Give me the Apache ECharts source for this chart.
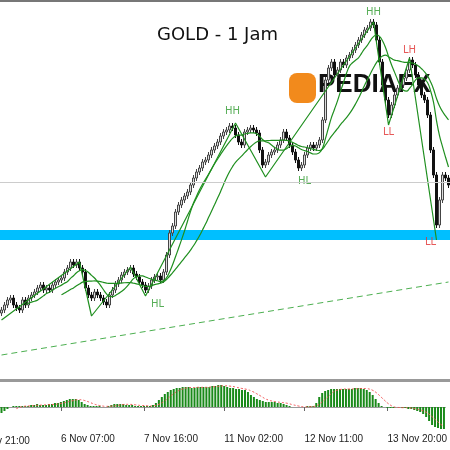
<!DOCTYPE html>
<html><head><meta charset="utf-8">
<script src="https://cdn.jsdelivr.net/npm/echarts@6/dist/echarts.min.js"></script>
<style>html,body{margin:0;padding:0;background:#fff}#c{width:450px;height:450px}</style>
</head><body><div id="c"></div>
<script>
const closes=[90,95,100,102,95,92,90,100,95,102,105,108,112,115,110,112,110,115,118,120,122,128,132,138,135,138,132,128,112,105,102,108,105,102,98,95,105,110,116,120,125,128,130,132,126,123,118,115,110,114,120,123,124,120,128,145,167,174,188,195,200,204,208,215,222,228,232,238,240,245,250,254,258,264,268,270,274,272,265,258,255,268,270,272,270,267,250,235,238,245,248,250,255,260,268,262,255,248,240,232,235,245,252,255,252,255,260,280,320,332,338,325,330,338,335,342,345,350,355,360,365,370,372,378,375,360,338,315,300,285,295,305,312,315,322,330,340,335,325,315,305,300,285,250,225,175,200,225,222,215];
const zigzag=[[0,80],[26,138],[30,84],[43,133],[48,104],[78,277],[88,223],[124,378],[129,275],[136,342],[145,160]];
const swingLabels=[[124,388,'HH','#2e9a2e'],[136,350,'LH','#e03030'],[129,268,'LL','#e03030'],[143,158,'LL','#e03030'],[77,289,'HH','#2e9a2e'],[101,219,'HL','#2e9a2e'],[52,96,'HL','#2e9a2e']];
const hist=[-6,-4,-2,0,1,1,1,1,1,1,2,2,3,2,2,2,3,3,4,4,5,6,7,8,8,8,7,5,3,2,1,1,1,1,0,0,1,2,3,3,3,3,2,2,2,1,1,1,1,1,1,2,4,7,10,13,15,17,18,19,19,20,20,20,19,19,20,20,20,20,20,21,21,22,22,21,20,19,19,18,18,17,17,15,12,10,8,7,6,5,5,5,5,4,4,3,2,1,0,0,0,0,0,1,1,1,4,10,14,16,17,18,18,18,18,18,18,18,18,19,19,19,18,17,15,12,8,4,1,0,-1,-1,-1,0,0,-1,-1,-2,-2,-3,-4,-5,-7,-10,-14,-18,-20,-21,-22,-22];
const tickLabels={20:'6 Nov 07:00',48:'7 Nov 16:00',75:'11 Nov 02:00',102:'12 Nov 11:00',130:'13 Nov 20:00'};
const band=[160,170], hLine=218, trend=[[0,45],[149,118]];

const cats=closes.map((_,i)=>i);
const ohlc=closes.map((c,i)=>{const o=i?closes[i-1]:c-3;return [o,c,Math.min(o,c)-3,Math.max(o,c)+3];});
function sma(a,p){return a.map((_,i)=>{if(i<p-1)return null;let s=0;for(let j=i-p+1;j<=i;j++)s+=a[j];return +(s/p).toFixed(2);});}
const zz=cats.map(()=>null);zigzag.forEach(([i,v])=>zz[i]=v);

const ch=echarts.init(document.getElementById('c'));
ch.setOption({
 animation:false,
 grid:[{left:0,right:0,top:2,height:376},{left:0,right:0,top:384,height:46}],
 xAxis:[{type:'category',data:cats,gridIndex:0,boundaryGap:true,axisLine:{show:false},axisTick:{show:false},axisLabel:{show:false}},
  {type:'category',data:cats,gridIndex:1,boundaryGap:true,axisLine:{show:true,lineStyle:{color:'#999'}},
   axisTick:{show:true,alignWithLabel:true,length:4,interval:(i)=>tickLabels[i]!==undefined,lineStyle:{color:'#666'}},
   axisLabel:{interval:(i)=>tickLabels[i]!==undefined,formatter:(v)=>tickLabels[v]||'',align:'left',color:'#222',fontSize:10,fontFamily:'Liberation Sans',margin:4}}],
 yAxis:[{gridIndex:0,min:22,max:398,show:false,splitLine:{show:false}},{gridIndex:1,min:-23,max:23,show:false,splitLine:{show:false}}],
 series:[
  {type:'candlestick',data:ohlc,barWidth:2,itemStyle:{color:'#ddd',color0:'#111',borderColor:'#444',borderColor0:'#111',borderWidth:1},
   markArea:{silent:true,itemStyle:{color:'#00bfff'},data:[[{yAxis:band[0]},{yAxis:band[1]}]]},
   markLine:{silent:true,symbol:'none',label:{show:false},data:[
     {yAxis:hLine,lineStyle:{color:'#ccc',type:'solid',width:1}},
     [{coord:[trend[0][0],trend[0][1]],lineStyle:{color:'#4caf50',type:[6,4],width:1}},{coord:[trend[1][0],trend[1][1]]}]]}},
  {type:'line',data:sma(closes,9),showSymbol:false,smooth:true,lineStyle:{color:'#1f8f1f',width:1.2}},
  {type:'line',data:sma(closes,21),showSymbol:false,smooth:true,lineStyle:{color:'#1f8f1f',width:1.2}},
  {type:'line',data:zz,connectNulls:true,showSymbol:false,lineStyle:{color:'#1f8f1f',width:1.2}},
  {type:'scatter',data:swingLabels.map(d=>({value:[d[0],d[1]],label:{color:d[3]}})),symbolSize:0,
   label:{show:true,position:'inside',formatter:(p)=>swingLabels[p.dataIndex][2],fontSize:10,fontFamily:'DejaVu Sans'}},
  {type:'bar',xAxisIndex:1,yAxisIndex:1,data:hist,barWidth:2,itemStyle:{color:'#1a8a1a'}},
  {type:'line',xAxisIndex:1,yAxisIndex:1,data:sma(hist,6),showSymbol:false,smooth:true,lineStyle:{color:'#f05050',type:[2,2],width:1}}
 ],
 graphic:[
  {type:'rect',shape:{x:0,y:0,width:450,height:2},style:{fill:'#777'}},
  {type:'rect',shape:{x:0,y:379,width:450,height:3},style:{fill:'#999'}},
  {type:'text',left:157,top:26,style:{text:'GOLD - 1 Jam',font:'18px "DejaVu Sans"',fill:'#111'}},
  {type:'rect',shape:{x:289,y:73,width:27,height:30,r:8},style:{fill:'#f28a1c'}},
  {type:'text',left:318,top:72,style:{text:'PEDIAFX',font:'bold 26px "Liberation Sans"',fill:'#111'}},
  {type:'text',left:-24,top:436,style:{text:'5 Nov 21:00',font:'10px "Liberation Sans"',fill:'#222'}}
 ]
});
</script></body></html>
